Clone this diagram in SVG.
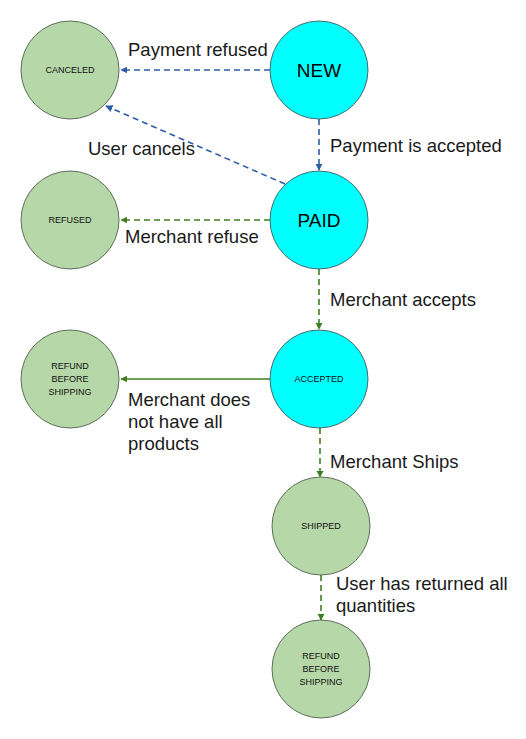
<svg xmlns="http://www.w3.org/2000/svg" width="526" height="739" viewBox="0 0 526 739">
<style>
.g{fill:#b6d7a8;stroke:#5f6f5a;stroke-width:1}
.c{fill:#00ffff;stroke:#4a6a6a;stroke-width:1}
.s{font-family:"Liberation Sans",Arial,sans-serif;font-size:9px;fill:#111;text-anchor:middle}
.b{font-family:"Liberation Sans",Arial,sans-serif;font-size:19px;fill:#000;text-anchor:middle}
.l{font-family:"Liberation Sans",Arial,sans-serif;font-size:18.5px;fill:#1a1a1a}
.blue{stroke:#2f5ea8;stroke-width:1.6;fill:none;stroke-dasharray:6 4}
.green{stroke:#3d7f22;stroke-width:1.6;fill:none;stroke-dasharray:6 4}
.solid{stroke:#3d7f22;stroke-width:1.6;fill:none}
</style>
<defs>
<marker id="ab" viewBox="0 0 10 10" refX="9" refY="5" markerWidth="4.5" markerHeight="4.5" markerUnits="strokeWidth" orient="auto"><path d="M0,0 L10,5 L0,10 z" fill="#2f5ea8"/></marker>
<marker id="ag" viewBox="0 0 10 10" refX="9" refY="5" markerWidth="4.5" markerHeight="4.5" markerUnits="strokeWidth" orient="auto"><path d="M0,0 L10,5 L0,10 z" fill="#3d7f22"/></marker>
</defs>
<rect width="526" height="739" fill="#fff"/>
<g id="connectors">
<line class="blue" x1="270" y1="70" x2="121" y2="70" marker-end="url(#ab)"/>
<line class="blue" x1="319" y1="119" x2="319" y2="170" marker-end="url(#ab)"/>
<line class="blue" x1="285" y1="184" x2="106" y2="106" marker-end="url(#ab)"/>
<line class="green" x1="270" y1="220" x2="121" y2="220" marker-end="url(#ag)"/>
<line class="green" x1="319" y1="269" x2="319" y2="329" marker-end="url(#ag)"/>
<line class="solid" x1="270" y1="379" x2="121" y2="379" marker-end="url(#ag)"/>
<line class="green" x1="320" y1="428" x2="320" y2="477" marker-end="url(#ag)"/>
<line class="green" x1="321" y1="575" x2="321" y2="620" marker-end="url(#ag)"/>
<text class="l" x="128" y="56">Payment refused</text>
<text class="l" x="330" y="152">Payment is accepted</text>
<text class="l" x="88" y="155">User cancels</text>
<text class="l" x="125" y="243">Merchant refuse</text>
<text class="l" x="330" y="306">Merchant accepts</text>
<text class="l" x="128" y="406">Merchant does</text>
<text class="l" x="128" y="428">not have all</text>
<text class="l" x="128" y="450">products</text>
<text class="l" x="330" y="468">Merchant Ships</text>
<text class="l" x="336" y="590">User has returned all</text>
<text class="l" x="336" y="612">quantities</text>
</g>
<g id="canceled"><circle class="g" cx="70" cy="70" r="49"/><text class="s" x="70" y="73">CANCELED</text></g>
<g id="new"><circle class="c" cx="319" cy="70" r="49"/><text class="b" x="319" y="77">NEW</text></g>
<g id="refused"><circle class="g" cx="70" cy="220" r="49"/><text class="s" x="70" y="223">REFUSED</text></g>
<g id="paid"><circle class="c" cx="319" cy="220" r="49"/><text class="b" x="319" y="227">PAID</text></g>
<g id="refund1"><circle class="g" cx="70" cy="379" r="49"/><text class="s" x="70" y="369">REFUND</text><text class="s" x="70" y="382">BEFORE</text><text class="s" x="70" y="395">SHIPPING</text></g>
<g id="accepted"><circle class="c" cx="319" cy="379" r="49"/><text class="s" x="319" y="382">ACCEPTED</text></g>
<g id="shipped"><circle class="g" cx="321" cy="526" r="49"/><text class="s" x="321" y="529">SHIPPED</text></g>
<g id="refund2"><circle class="g" cx="321" cy="669" r="49"/><text class="s" x="321" y="659">REFUND</text><text class="s" x="321" y="672">BEFORE</text><text class="s" x="321" y="685">SHIPPING</text></g>
</svg>
